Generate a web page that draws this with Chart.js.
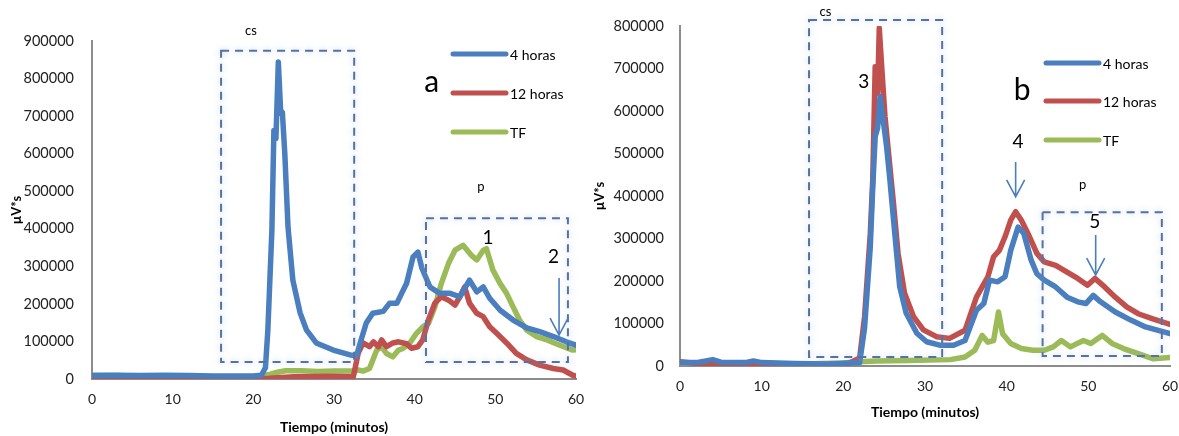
<!DOCTYPE html>
<html>
<head>
<meta charset="utf-8">
<script src="https://cdn.jsdelivr.net/npm/chart.js@4/dist/chart.umd.min.js"></script>
<style>
html, body { margin: 0; padding: 0; background: #fff; width: 1179px; height: 436px; overflow: hidden; }
.box { position: absolute; top: 0; height: 436px; }
#boxA { left: 0; width: 590px; }
#boxB { left: 590px; width: 589px; }
</style>
</head>
<body>
<div class="box" id="boxA"><canvas id="chartA"></canvas></div>
<div class="box" id="boxB"><canvas id="chartB"></canvas></div>
<script>
"use strict"

/* ---------- datos grafico a ---------- */
const seriesNames = ["4 horas", "12 horas", "TF"]
const seriesColors = ["#4a7ebf", "#c0504d", "#9bbb59"]

const tiempoA4h = [0, 3, 6, 9, 12, 15, 18, 20, 21, 21.5, 21.8, 22.3, 22.55, 22.8, 23.1, 23.4, 23.6, 23.9, 24.3, 24.9, 25.8, 26.6, 27.8, 29.9, 32.0, 32.8, 33.3, 34.0, 34.8, 36.1, 36.9, 37.8, 39.0, 39.8, 40.4, 40.9, 41.9, 43.1, 44.4, 45.6, 46.8, 47.7, 48.5, 49.3, 50.6, 52.2, 53.9, 55.5, 57.2, 58.8, 60]
const valorA4h = [9000, 10000, 9000, 10000, 9000, 8000, 8000, 8000, 10000, 30000, 130000, 396000, 662000, 640000, 844000, 707000, 710000, 601000, 404000, 263000, 176000, 130000, 96000, 77000, 64000, 62000, 100000, 149000, 175000, 180000, 202000, 202000, 255000, 325000, 338000, 295000, 245000, 228000, 228000, 219000, 263000, 232000, 245000, 215000, 183000, 157000, 136000, 126000, 113000, 99000, 90000]

const tiempoA12h = [0, 2, 5, 10, 15, 20, 22, 25, 30, 32.4, 33.0, 33.6, 34.4, 34.9, 35.5, 35.9, 36.5, 37.3, 38.0, 39.0, 39.6, 40.4, 41.0, 41.7, 42.5, 43.3, 44.2, 45.0, 45.6, 46.2, 46.8, 47.7, 48.5, 49.3, 50.2, 51.4, 52.6, 53.9, 55.5, 57.2, 58.4, 59.6, 60]
const valorA12h = [8000, 5000, 2000, 1000, 1000, 1000, 2000, 6000, 7000, 6000, 69000, 96000, 86000, 99000, 86000, 104000, 86000, 96000, 99000, 94000, 82000, 86000, 104000, 157000, 202000, 219000, 210000, 197000, 219000, 245000, 202000, 175000, 166000, 139000, 121000, 96000, 68000, 51000, 37000, 28000, 24000, 10000, 8000]

const tiempoATF = [0, 3, 6, 10, 15, 20, 21, 22, 23, 24, 26, 28, 30, 32, 33.0, 33.6, 34.4, 35.3, 35.9, 36.5, 37.3, 38.0, 38.6, 39.4, 40.2, 41.0, 41.7, 42.5, 43.3, 44.2, 45.0, 46.0, 47.0, 47.7, 48.5, 48.9, 49.7, 50.6, 51.4, 52.2, 53.0, 53.9, 55.1, 56.4, 58.0, 59.6, 60]
const valorATF = [10000, 9000, 7000, 6000, 5000, 5000, 8000, 12000, 18000, 22000, 22000, 20000, 21000, 21000, 24000, 21000, 28000, 77000, 86000, 68000, 59000, 77000, 82000, 96000, 121000, 139000, 148000, 192000, 254000, 308000, 343000, 356000, 330000, 317000, 343000, 347000, 290000, 254000, 228000, 192000, 157000, 130000, 113000, 104000, 90000, 77000, 78000]

/* ---------- datos grafico b ---------- */
const tiempoB4h = [0, 2, 4, 5, 8, 9, 10, 14, 18, 22, 22.6, 23.3, 23.6, 23.9, 24.2, 24.5, 24.8, 25.3, 25.7, 26.3, 26.9, 27.7, 29.0, 30.2, 31.8, 33.5, 34.9, 36.3, 37.2, 37.9, 38.9, 39.8, 40.5, 41.4, 42.1, 43.0, 43.7, 44.6, 46.0, 47.4, 48.7, 49.7, 50.6, 51.5, 53.3, 55.2, 57.0, 60]
const valorB4h = [8000, 8000, 15000, 9000, 8000, 12000, 8000, 6000, 5000, 8000, 90000, 280000, 420000, 540000, 560000, 634000, 590000, 516000, 438000, 312000, 187000, 124000, 77000, 57000, 49000, 49000, 60000, 131000, 147000, 202000, 198000, 210000, 272000, 327000, 312000, 249000, 217000, 202000, 186000, 162000, 151000, 147000, 166000, 151000, 127000, 108000, 92000, 76000]

const tiempoB12h = [0, 2, 5, 10, 15, 20, 22.0, 22.6, 23.3, 23.6, 23.9, 24.2, 24.4, 24.7, 25.1, 25.5, 26.1, 26.7, 27.5, 28.6, 29.8, 31.4, 33.0, 34.9, 36.3, 37.0, 37.7, 38.4, 39.1, 39.8, 40.5, 41.1, 41.8, 42.8, 43.7, 44.6, 46.0, 47.4, 48.7, 49.9, 50.8, 52.0, 53.3, 54.7, 56.1, 57.9, 60]
const valorB12h = [10000, 6000, 2000, 0, 0, 0, 19000, 116000, 312000, 438000, 704000, 642000, 795000, 704000, 587000, 508000, 391000, 265000, 171000, 116000, 85000, 69000, 65000, 84000, 162000, 186000, 210000, 257000, 272000, 304000, 343000, 363000, 343000, 304000, 265000, 245000, 237000, 221000, 206000, 190000, 206000, 186000, 162000, 139000, 123000, 111000, 98000]

const tiempoBTF = [0, 5, 10, 15, 20, 22, 24, 28, 33.1, 34.9, 36.1, 37.0, 37.7, 38.4, 39.0, 39.5, 40.5, 41.8, 43.2, 44.6, 45.7, 46.7, 47.8, 49.4, 50.3, 51.7, 52.9, 54.3, 56.1, 57.9, 60]
const valorBTF = [8000, 6000, 5000, 5000, 7000, 10000, 12000, 13000, 15000, 21000, 37000, 72000, 56000, 60000, 127000, 76000, 53000, 41000, 37000, 37000, 45000, 60000, 45000, 60000, 53000, 72000, 53000, 41000, 29000, 17000, 20000]

const xTicks = [0, 10, 20, 30, 40, 50, 60]

Chart.defaults.font.family = "Lato, 'Open Sans', sans-serif"

function punto(t, v) { // junta tiempo y valor
    return t.map((x, i) => ({ x: x, y: v[i] }))
}

function serie(i, t, v) {
    return {
        label: seriesNames[i],
        data: punto(t, v),
        borderColor: seriesColors[i],
        backgroundColor: seriesColors[i],
        borderWidth: 5.5,
        pointRadius: 0,
        tension: 0,
        borderJoinStyle: "round",
        borderCapStyle: "round"
    }
}

/* plugin para cajas, textos, flechas y leyenda */
const extras = {
    id: "extras",
    afterDatasetsDraw(chart, args, opts) {
        const ctx = chart.ctx
        const xs = chart.scales.x
        const ys = chart.scales.y
        ctx.save()

        // cajas punteadas
        opts.boxes.forEach(b => {
            const x0 = xs.getPixelForValue(b.x0), x1 = xs.getPixelForValue(b.x1)
            const y0 = ys.getPixelForValue(b.y0), y1 = ys.getPixelForValue(b.y1)
            ctx.save()
            ctx.shadowColor = "rgba(150,180,225,0.7)"
            ctx.shadowBlur = 6
            ctx.strokeStyle = "#56739f"
            ctx.lineWidth = 2
            ctx.setLineDash([8, 6])
            ctx.strokeRect(x0, y1, x1 - x0, y0 - y1)
            ctx.restore()
        })

        // flechas
        opts.arrows.forEach(a => {
            const x = xs.getPixelForValue(a.x)
            const yTop = ys.getPixelForValue(a.y0)
            const yTip = ys.getPixelForValue(a.y1)
            ctx.strokeStyle = "#4a7ebf"
            ctx.lineWidth = 1.6
            ctx.beginPath()
            ctx.moveTo(x, yTop)
            ctx.lineTo(x, yTip)
            ctx.moveTo(x - 9, yTip - 17)
            ctx.lineTo(x, yTip)
            ctx.lineTo(x + 9, yTip - 17)
            ctx.stroke()
        })

        // textos
        ctx.fillStyle = "#000"
        ctx.textAlign = "center"
        ctx.textBaseline = "middle"
        opts.texts.forEach(t => {
            ctx.font = t.size + "px Lato, sans-serif"
            ctx.fillText(t.text, xs.getPixelForValue(t.x), ys.getPixelForValue(t.y))
        })

        // leyenda
        const lg = opts.legend
        ctx.textAlign = "left"
        ctx.font = "14px Lato, sans-serif"
        seriesNames.forEach((name, i) => {
            ctx.strokeStyle = seriesColors[i]
            ctx.lineWidth = 5
            ctx.lineCap = "round"
            ctx.beginPath()
            ctx.moveTo(lg.x, lg.y[i])
            ctx.lineTo(lg.x + lg.len, lg.y[i])
            ctx.stroke()
            ctx.fillStyle = "#000"
            ctx.fillText(name, lg.x + lg.len + 4, lg.y[i] + 1)
        })
        ctx.restore()
    }
}

function opciones(cfg) {
    return {
        responsive: true,
        maintainAspectRatio: false,
        animation: false,
        layout: { padding: { top: cfg.top, right: cfg.right, left: 0, bottom: 0 } },
        plugins: {
            legend: { display: false },
            tooltip: { enabled: false },
            extras: cfg.extras
        },
        scales: {
            x: {
                type: "linear",
                min: 0,
                max: 60,
                afterBuildTicks: s => { s.ticks = xTicks.map(v => ({ value: v })) },
                afterFit: s => { s.height = cfg.xHeight; s.paddingRight = 0; s.paddingLeft = 0 },
                grid: { display: false, drawTicks: false },
                border: { display: true, color: "#8c8c8c", width: 2 },
                ticks: { color: "#222", font: { size: 14 }, padding: 12, maxRotation: 0 },
                title: {
                    display: true,
                    text: "Tiempo (minutos)",
                    color: "#000",
                    font: { size: 14, weight: "bold" },
                    padding: { top: 0, bottom: cfg.xTitlePad }
                }
            },
            y: {
                min: 0,
                max: cfg.yMax,
                afterFit: s => { s.width = cfg.yWidth },
                grid: { display: false, drawTicks: false },
                border: { display: true, color: "#8c8c8c", width: 2 },
                ticks: {
                    stepSize: 100000,
                    color: "#222",
                    font: { size: 14.5 },
                    padding: cfg.yTickPad,
                    callback: v => String(v)
                },
                title: {
                    display: true,
                    text: "µV*s",
                    color: "#000",
                    font: { size: 13, weight: "bold" },
                    padding: { top: cfg.yTitlePad, bottom: 0 }
                }
            }
        }
    }
}

new Chart(document.getElementById("chartA"), {
    type: "line",
    data: {
        datasets: [
            serie(0, tiempoA4h, valorA4h),
            serie(1, tiempoA12h, valorA12h),
            serie(2, tiempoATF, valorATF)
        ]
    },
    options: opciones({
        top: 41, right: 14, xHeight: 57, yWidth: 92, yMax: 900000, xTitlePad: 0, yTitlePad: 9, yTickPad: 18,
        extras: {
            boxes: [
                { x0: 16.0, x1: 32.5, y0: 45000, y1: 874000 },
                { x0: 41.4, x1: 59.0, y0: 45000, y1: 428000 }
            ],
            arrows: [{ x: 57.9, y0: 269000, y1: 117000 }],
            texts: [
                { x: 19.7, y: 928000, text: "cs", size: 13 },
                { x: 42.1, y: 790000, text: "a", size: 30 },
                { x: 48.2, y: 511000, text: "p", size: 13 },
                { x: 49.1, y: 375000, text: "1", size: 19 },
                { x: 57.2, y: 324000, text: "2", size: 19 }
            ],
            legend: { x: 453, len: 53, y: [54, 93, 132] }
        }
    }),
    plugins: [extras]
})

new Chart(document.getElementById("chartB"), {
    type: "line",
    data: {
        datasets: [
            serie(0, tiempoB4h, valorB4h),
            serie(1, tiempoB12h, valorB12h),
            serie(2, tiempoBTF, valorBTF)
        ]
    },
    options: opciones({
        top: 26, right: 9, xHeight: 70, yWidth: 90, yMax: 800000, xTitlePad: 15, yTitlePad: 2, yTickPad: 16,
        extras: {
            boxes: [
                { x0: 15.8, x1: 32.1, y0: 21000, y1: 814000 },
                { x0: 44.4, x1: 59.0, y0: 23500, y1: 362000 }
            ],
            arrows: [
                { x: 41.1, y0: 480000, y1: 398000 },
                { x: 50.9, y0: 308000, y1: 214000 }
            ],
            texts: [
                { x: 17.8, y: 833000, text: "cs", size: 13 },
                { x: 22.5, y: 668000, text: "3", size: 19 },
                { x: 41.9, y: 649000, text: "b", size: 30 },
                { x: 41.4, y: 527000, text: "4", size: 19 },
                { x: 49.3, y: 426000, text: "p", size: 13 },
                { x: 50.8, y: 339000, text: "5", size: 19 }
            ],
            legend: { x: 456, len: 53, y: [63, 101, 140] }
        }
    }),
    plugins: [extras]
})
</script>
</body>
</html>
